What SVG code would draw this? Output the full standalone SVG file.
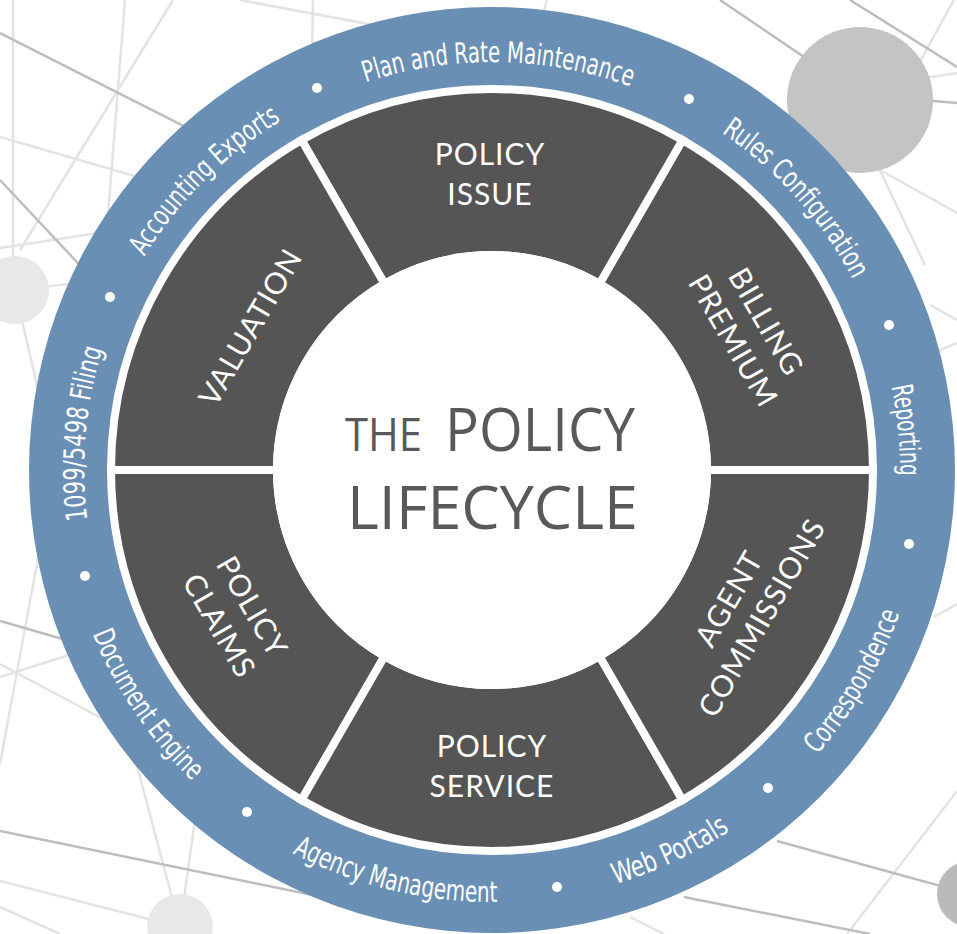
<svg xmlns="http://www.w3.org/2000/svg" width="957" height="934" viewBox="0 0 957 934">
<style>
.bgl{stroke:#e3e3e3;stroke-width:2.5;fill:none}
.bgd{stroke:#bdbdbd;stroke-width:2.5;fill:none}
.seg{fill:#555555;stroke:#ffffff;stroke-width:8;stroke-linejoin:miter}
.segt{fill:#ffffff;font-family:Lato,"Open Sans","Liberation Sans",sans-serif;font-size:30px;letter-spacing:1px;text-anchor:middle}
.ringt{fill:#ffffff;font-family:"DejaVu Sans Condensed","DejaVu Sans",sans-serif;font-stretch:condensed;font-size:29px}
.title{fill:#58595b;font-family:"Open Sans","Liberation Sans",sans-serif}
.dot{fill:#ffffff}
</style>
<defs>
<path id="pPlan" d="M142.8,261 A406,406 0 0 1 847.6,272.1"/>
<path id="pRules" d="M408.8,71.6 A406,406 0 0 1 878.7,597.1"/>
<path id="pRep" d="M660.8,99.6 A406,406 0 0 1 728.3,801.3"/>
<path id="p1099" d="M258,803 A406,406 0 0 1 320.7,100.9"/>
<path id="pAcc" d="M98.5,573.9 A406,406 0 0 1 598.7,77.3"/>
<path id="pCorr" d="M489.7,902 A432,432 0 0 0 867.2,255.9"/>
<path id="pWeb" d="M244.2,823.9 A432,432 0 0 0 922.4,507.7"/>
<path id="pAg" d="M78,593.4 A432,432 0 0 0 805.9,766.8"/>
<path id="pDoc" d="M103.1,282 A432,432 0 0 0 523.6,900.8"/>
</defs>
<rect x="0" y="0" width="957" height="934" fill="#ffffff"/>
<g id="background">
<line class="bgl" x1="13" y1="0" x2="13" y2="260"/>
<line class="bgl" x1="173" y1="0" x2="20" y2="250"/>
<line class="bgl" x1="125" y1="0" x2="95" y2="380"/>
<line class="bgl" x1="0" y1="137" x2="200" y2="195"/>
<line class="bgl" x1="0" y1="248" x2="150" y2="225"/>
<line class="bgl" x1="15" y1="290" x2="150" y2="275"/>
<line class="bgl" x1="15" y1="290" x2="45" y2="420"/>
<line class="bgl" x1="45" y1="520" x2="0" y2="764"/>
<line class="bgl" x1="313" y1="0" x2="312" y2="60"/>
<line class="bgl" x1="240" y1="0" x2="400" y2="30"/>
<line class="bgl" x1="547" y1="0" x2="540" y2="25"/>
<line class="bgl" x1="954" y1="0" x2="860" y2="170"/>
<line class="bgl" x1="787" y1="100" x2="957" y2="73"/>
<line class="bgl" x1="875" y1="160" x2="925" y2="265"/>
<line class="bgl" x1="880" y1="170" x2="957" y2="213"/>
<line class="bgl" x1="930" y1="305" x2="957" y2="320"/>
<line class="bgl" x1="935" y1="352" x2="957" y2="343"/>
<line class="bgl" x1="934" y1="617" x2="957" y2="604"/>
<line class="bgl" x1="957" y1="791" x2="847" y2="934"/>
<line class="bgl" x1="630" y1="917" x2="664" y2="934"/>
<line class="bgl" x1="0" y1="664" x2="120" y2="728"/>
<line class="bgl" x1="0" y1="677" x2="100" y2="645"/>
<line class="bgl" x1="180" y1="927" x2="130" y2="740"/>
<line class="bgl" x1="180" y1="927" x2="195" y2="820"/>
<line class="bgl" x1="0" y1="881" x2="180" y2="927"/>
<line class="bgl" x1="0" y1="907" x2="60" y2="934"/>
<line class="bgd" x1="0" y1="33" x2="300" y2="185"/>
<line class="bgd" x1="0" y1="180" x2="150" y2="340"/>
<line class="bgd" x1="0" y1="621" x2="80" y2="644"/>
<line class="bgd" x1="0" y1="831" x2="400" y2="913"/>
<line class="bgd" x1="720" y1="0" x2="860" y2="95"/>
<line class="bgd" x1="860" y1="95" x2="957" y2="103"/>
<line class="bgd" x1="850" y1="0" x2="957" y2="67"/>
<line class="bgd" x1="777" y1="841" x2="970" y2="894"/>
<line class="bgd" x1="684" y1="897" x2="870" y2="934"/>
<circle cx="860" cy="100" r="73" fill="#c4c4c4"/>
<circle cx="15" cy="290" r="34" fill="#e8e8e8"/>
<circle cx="180" cy="927" r="33" fill="#e8e8e8"/>
<circle cx="970" cy="894" r="33" fill="#bababa"/>
</g>
<g id="ring">
<circle cx="492" cy="470" r="463" fill="#6a8fb5"/>
<circle cx="492" cy="470" r="382" fill="#ffffff"/>
</g>
<g id="ring-labels">
<text class="ringt"><textPath href="#pPlan" startOffset="50%" text-anchor="middle" textLength="270" lengthAdjust="spacingAndGlyphs">Plan and Rate Maintenance</textPath></text>
<text class="ringt"><textPath href="#pRules" startOffset="50%" text-anchor="middle" textLength="199" lengthAdjust="spacingAndGlyphs">Rules Configuration</textPath></text>
<text class="ringt"><textPath href="#pRep" startOffset="50%" text-anchor="middle" textLength="90" lengthAdjust="spacingAndGlyphs">Reporting</textPath></text>
<text class="ringt"><textPath href="#pCorr" startOffset="50%" text-anchor="middle" textLength="165" lengthAdjust="spacingAndGlyphs">Correspondence</textPath></text>
<text class="ringt"><textPath href="#pWeb" startOffset="50%" text-anchor="middle" textLength="127" lengthAdjust="spacingAndGlyphs">Web Portals</textPath></text>
<text class="ringt"><textPath href="#pAg" startOffset="50%" text-anchor="middle" textLength="213" lengthAdjust="spacingAndGlyphs">Agency Management</textPath></text>
<text class="ringt"><textPath href="#pDoc" startOffset="50%" text-anchor="middle" textLength="179" lengthAdjust="spacingAndGlyphs">Document Engine</textPath></text>
<text class="ringt"><textPath href="#p1099" startOffset="50%" text-anchor="middle" textLength="173" lengthAdjust="spacingAndGlyphs">1099/5498 Filing</textPath></text>
<text class="ringt"><textPath href="#pAcc" startOffset="50%" text-anchor="middle" textLength="195" lengthAdjust="spacingAndGlyphs">Accounting Exports</textPath></text>
<circle class="dot" cx="689" cy="99" r="5"/>
<circle class="dot" cx="889" cy="325" r="5"/>
<circle class="dot" cx="909" cy="544" r="5"/>
<circle class="dot" cx="768" cy="788" r="5"/>
<circle class="dot" cx="557" cy="887" r="5"/>
<circle class="dot" cx="247" cy="812" r="5"/>
<circle class="dot" cx="85" cy="576" r="5"/>
<circle class="dot" cx="110" cy="297" r="5"/>
<circle class="dot" cx="317" cy="88" r="5"/>
</g>
<g id="seg-billing-premium">
<path class="seg" d="M873,470 A381,381 0 0 0 682.5,140.04 L599.5,283.8 A215,215 0 0 1 707,470 Z"/>
<text class="segt" transform="translate(750,331) rotate(60)"><tspan x="0" y="-8">BILLING</tspan><tspan x="0" y="30">PREMIUM</tspan></text>
</g>
<g id="seg-policy-issue">
<path class="seg" d="M682.5,140.04 A381,381 0 0 0 301.5,140.04 L384.5,283.8 A215,215 0 0 1 599.5,283.8 Z"/>
<text class="segt"><tspan x="490" y="165">POLICY</tspan><tspan x="490" y="205">ISSUE</tspan></text>
</g>
<g id="seg-valuation">
<path class="seg" d="M301.5,140.04 A381,381 0 0 0 111,470 L277,470 A215,215 0 0 1 384.5,283.8 Z"/>
<text class="segt" transform="translate(250,327) rotate(-60)" x="0" y="11">VALUATION</text>
</g>
<g id="seg-policy-claims">
<path class="seg" d="M111,470 A381,381 0 0 0 301.5,799.96 L384.5,656.2 A215,215 0 0 1 277,470 Z"/>
<text class="segt" transform="translate(236,616) rotate(60)"><tspan x="0" y="-8">POLICY</tspan><tspan x="0" y="30">CLAIMS</tspan></text>
</g>
<g id="seg-policy-service">
<path class="seg" d="M301.5,799.96 A381,381 0 0 0 682.5,799.96 L599.5,656.2 A215,215 0 0 1 384.5,656.2 Z"/>
<text class="segt"><tspan x="492" y="757">POLICY</tspan><tspan x="492" y="797">SERVICE</tspan></text>
</g>
<g id="seg-agent-commissions">
<path class="seg" d="M682.5,799.96 A381,381 0 0 0 873,470 L707,470 A215,215 0 0 1 599.5,656.2 Z"/>
<text class="segt" transform="translate(745,608) rotate(-60)"><tspan x="0" y="-8">AGENT</tspan><tspan x="0" y="30">COMMISSIONS</tspan></text>
</g>
<g id="center">
<circle cx="492" cy="470" r="219" fill="#ffffff"/>
<text class="title" x="345" y="451" font-size="46" textLength="77" lengthAdjust="spacingAndGlyphs">THE</text>
<text class="title" x="445" y="451" font-size="61" textLength="190" lengthAdjust="spacingAndGlyphs">POLICY</text>
<text class="title" x="347" y="529" font-size="60" textLength="291" lengthAdjust="spacingAndGlyphs">LIFECYCLE</text>
</g>
<g id="connectors"></g>
</svg>
